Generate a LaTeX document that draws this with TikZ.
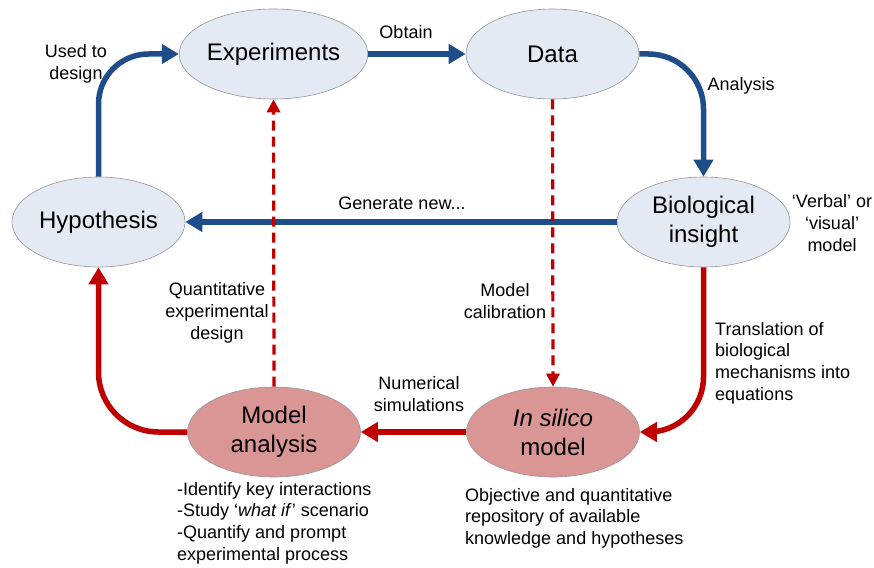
\documentclass[tikz,border=0pt]{standalone}
\usepackage{fontspec}
\setmainfont{Liberation Sans}
\usetikzlibrary{arrows.meta,shapes.geometric}
\definecolor{bblue}{RGB}{31,77,138}
\definecolor{rred}{RGB}{192,0,0}
\definecolor{bfill}{RGB}{228,234,244}
\definecolor{rfill}{RGB}{217,150,148}
\definecolor{edge}{RGB}{150,150,150}
\tikzset{
  ell/.style={ellipse, draw=edge, line width=0.6pt, minimum width=173pt, minimum height=90pt,
    inner sep=0pt, align=center, font=\fontsize{24}{29}\selectfont},
  bnode/.style={ell, fill=bfill},
  rnode/.style={ell, fill=rfill},
  lbl/.style={align=center, inner sep=0pt, font=\fontsize{18}{21.7}\selectfont},
  lbll/.style={align=left, inner sep=0pt, font=\fontsize{18}{21.7}\selectfont},
  barrow/.style={draw=bblue, line width=5.5pt, -{Triangle[length=17pt,width=19pt]}},
  rarrow/.style={draw=rred, line width=5.5pt, -{Triangle[length=17pt,width=19pt]}},
  darrow/.style={draw=rred, line width=3.2pt, dash pattern=on 10pt off 6pt,
    -{Triangle[length=13pt,width=13pt]}}
}
\begin{document}
\begin{tikzpicture}[x=1pt,y=-1pt]
\useasboundingbox (0,0) rectangle (874,567);
% nodes
\node[bnode] (exp) at (273.5,54) {Experiments};
\node[bnode] (data) at (552.5,54) {Data};
\node[bnode] (hyp) at (98.5,222) {Hypothesis};
\node[bnode] (bio) at (703.5,222) {Biological\\insight};
\node[rnode] (mana) at (274,432) {Model\\analysis};
\node[rnode] (insil) at (553,432) {\textit{In silico}\\model};
% blue connectors
\draw[barrow, rounded corners=50pt] (hyp.north) |- (exp.west);
\draw[barrow] (exp.east) -- (data.west);
\draw[barrow, rounded corners=55pt] (data.east) -| (bio.north);
\draw[barrow] (bio.west) -- (hyp.east);
% red connectors
\draw[rarrow, rounded corners=55pt] (bio.south) |- (insil.east);
\draw[rarrow] (insil.west) -- (mana.east);
\draw[rarrow, rounded corners=60pt] (mana.west) -| (hyp.south);
% dashed
\draw[darrow] (mana.north) -- (exp.south);
\draw[darrow] (data.south) -- (insil.north);
% labels
\node[lbl] (l1) at (76,64) {Used to\\design};
\node[lbl] (l2) at (406,32) {Obtain};
\node[lbl] (l3) at (741,86) {Analysis};
\node[lbl] (l4) at (402,203) {Generate new...};
\node[lbl] (l5) at (832,223) {‘Verbal’ or\\‘visual’\\model};
\node[lbl] (l6) at (217,313) {Quantitative\\experimental\\design};
\node[lbl] (l7) at (505,301) {Model\\calibration};
\node[lbl] (l8) at (419,394) {Numerical\\simulations};
\node[lbll, anchor=north west] (l9) at (715,322) {Translation of\\biological\\mechanisms into\\equations};
\node[lbll, anchor=north west] (l10) at (177,482) {-Identify key interactions\\-Study ‘\textit{what if}’ scenario\\-Quantify and prompt\\experimental process};
\node[lbll, anchor=north west] (l11) at (465,488) {Objective and quantitative\\repository of available\\knowledge and hypotheses};
\end{tikzpicture}
\end{document}
